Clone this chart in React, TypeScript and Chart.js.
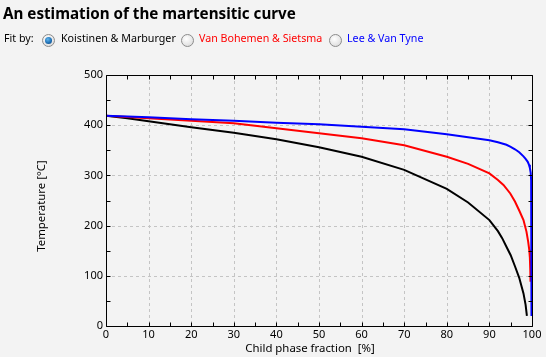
import React, { useEffect, useRef } from "react";
import { Chart, registerables } from "chart.js";

Chart.register(...registerables);

// Koistinen & Marburger (black)
const kmFraction = [0, 5, 10, 20, 30, 40, 50, 60, 70, 80, 85, 90, 91, 92, 93, 94, 95, 96, 97, 98, 98.5, 98.8];
const kmTemp = [419, 414, 408, 396, 385, 372, 356, 337, 311, 273, 246, 211, 200, 189, 175, 158, 141, 119, 96, 65, 42, 20];

// Van Bohemen & Sietsma (red)
const vbFraction = [0, 10, 20, 30, 40, 50, 60, 70, 80, 85, 90, 92, 93.3, 94.9, 96, 97, 98, 98.7, 99.1, 99.35, 99.5, 99.6, 99.65];
const vbTemp = [419, 414, 409, 404, 394, 384, 374, 360, 337, 323, 304, 291, 281, 264, 248, 230, 211, 188, 168, 152, 136, 110, 88];

// Lee & Van Tyne (blue)
const lvFraction = [0, 10, 20, 30, 40, 50, 60, 70, 80, 90, 92, 94, 95, 96, 97, 98, 98.5, 99, 99.3, 99.5, 99.7, 99.8, 99.85, 99.88, 99.9];
const lvTemp = [419, 416, 412, 409, 405, 402, 397, 392, 382, 370, 366, 361, 357, 352, 346, 338, 333, 327, 321, 315, 305, 290, 200, 100, 20];

const xMin = 0;
const xMax = 100;
const yMin = 0;
const yMax = 500;
const xMajor = 10;
const xMinor = 5;
const yMajor = 100;
const yMinor = 50;

const xTitle = "Child phase fraction  [%]";
const yTitle = "Temperature [°C]";
const chartTitle = "An estimation of the martensitic curve";
const fitLabels = ["Koistinen & Marburger", "Van Bohemen & Sietsma", "Lee & Van Tyne"];
const fitColors = ["#000000", "#ff0000", "#0000ff"];

const BG = "#f3f3f3";
const FONT = "'Noto Sans', sans-serif";

const toPoints = (xs: number[], ys: number[]) => xs.map((x, i) => ({ x, y: ys[i] }));

const framePlugin = {
  id: "frame",
  beforeDatasetsDraw(chart: any) {
    const { ctx, chartArea, scales } = chart;
    const { left, right, top, bottom } = chartArea;
    const x = scales.x;
    const y = scales.y;
    ctx.save();
    ctx.strokeStyle = "#c4c4c4";
    ctx.lineWidth = 1;
    ctx.setLineDash([3, 3]);
    for (let v = xMin + xMajor; v < xMax; v += xMajor) {
      const px = Math.round(x.getPixelForValue(v)) + 0.5;
      ctx.beginPath();
      ctx.moveTo(px, top);
      ctx.lineTo(px, bottom);
      ctx.stroke();
    }
    for (let v = yMin + yMajor; v < yMax; v += yMajor) {
      const py = Math.round(y.getPixelForValue(v)) + 0.5;
      ctx.beginPath();
      ctx.moveTo(left, py);
      ctx.lineTo(right, py);
      ctx.stroke();
    }
    ctx.restore();
  },
  afterDraw(chart: any) {
    const { ctx, chartArea, scales } = chart;
    const { left, right, top, bottom } = chartArea;
    const x = scales.x;
    const y = scales.y;
    ctx.save();
    ctx.strokeStyle = "#000";
    ctx.lineWidth = 1;
    const L = Math.round(left) + 0.5;
    const R = Math.round(right) + 0.5;
    const T = Math.round(top) + 0.5;
    const B = Math.round(bottom) + 0.5;
    ctx.beginPath();
    ctx.rect(L, T, R - L, B - T);
    ctx.stroke();
    const tl = 4;
    for (let v = xMin; v <= xMax; v += xMinor) {
      const px = Math.round(x.getPixelForValue(v)) + 0.5;
      ctx.beginPath();
      ctx.moveTo(px, B);
      ctx.lineTo(px, B - tl);
      ctx.moveTo(px, T);
      ctx.lineTo(px, T + tl);
      ctx.stroke();
    }
    for (let v = yMin; v <= yMax; v += yMinor) {
      const py = Math.round(y.getPixelForValue(v)) + 0.5;
      ctx.beginPath();
      ctx.moveTo(L, py);
      ctx.lineTo(L + tl, py);
      ctx.moveTo(R, py);
      ctx.lineTo(R - tl, py);
      ctx.stroke();
    }
    // axis titles
    ctx.fillStyle = "#000";
    ctx.font = `11.4px ${FONT}`;
    ctx.textAlign = "center";
    ctx.textBaseline = "middle";
    ctx.fillText(xTitle, 310, 349);
    ctx.translate(42, 206);
    ctx.rotate(-Math.PI / 2);
    ctx.fillText(yTitle, 0, 0);
    ctx.restore();
  },
};

function Radio({ left, checked }: { left: number; checked: boolean }) {
  return (
    <div
      style={{
        position: "absolute",
        left,
        top: 34,
        width: 11,
        height: 11,
        borderRadius: "50%",
        border: "1px solid #8b8b8b",
        background: "radial-gradient(circle at 40% 35%, #ffffff 0%, #e6e6e6 60%, #d2d2d2 100%)",
      }}
    >
      {checked && (
        <div
          style={{
            position: "absolute",
            left: 2,
            top: 2,
            width: 7,
            height: 7,
            borderRadius: "50%",
            background: "radial-gradient(circle at 40% 35%, #5fb6ef 0%, #1b6bb0 60%, #0d3f73 100%)",
          }}
        />
      )}
    </div>
  );
}

export default function App() {
  const canvasRef = useRef<HTMLCanvasElement | null>(null);

  useEffect(() => {
    const canvas = canvasRef.current;
    if (!canvas) return;
    const chart = new Chart(canvas, {
      type: "line",
      data: {
        datasets: [
          {
            label: fitLabels[2],
            data: toPoints(lvFraction, lvTemp),
            borderColor: fitColors[2],
            borderWidth: 2,
            pointRadius: 0,
            tension: 0,
            fill: false,
          },
          {
            label: fitLabels[1],
            data: toPoints(vbFraction, vbTemp),
            borderColor: fitColors[1],
            borderWidth: 2,
            pointRadius: 0,
            tension: 0,
            fill: false,
          },
          {
            label: fitLabels[0],
            data: toPoints(kmFraction, kmTemp),
            borderColor: fitColors[0],
            borderWidth: 2,
            pointRadius: 0,
            tension: 0,
            fill: false,
          },
        ],
      },
      options: {
        animation: false,
        responsive: false,
        maintainAspectRatio: false,
        layout: { padding: { left: 0, top: 75, right: 14, bottom: 0 } },
        plugins: {
          legend: { display: false },
          tooltip: { enabled: false },
          title: { display: false },
        },
        scales: {
          x: {
            type: "linear",
            min: xMin,
            max: xMax,
            grid: { display: false, drawTicks: false },
            border: { display: false },
            ticks: {
              stepSize: xMajor,
              color: "#000",
              padding: 2,
              maxRotation: 0,
              font: { family: FONT, size: 11 },
            },
            afterFit(scale: any) {
              scale.height = 31;
            },
          },
          y: {
            type: "linear",
            min: yMin,
            max: yMax,
            grid: { display: false, drawTicks: false },
            border: { display: false },
            ticks: {
              stepSize: yMajor,
              color: "#000",
              padding: 3,
              font: { family: FONT, size: 11 },
            },
            afterFit(scale: any) {
              scale.width = 106;
            },
          },
        },
      },
      plugins: [framePlugin],
    });
    return () => chart.destroy();
  }, []);

  const textStyle: React.CSSProperties = {
    position: "absolute",
    top: 31,
    fontSize: 10.7,
    lineHeight: "15px",
    whiteSpace: "nowrap",
  };

  return (
    <div
      style={{
        position: "fixed",
        left: 0,
        top: 0,
        width: 546,
        height: 357,
        background: BG,
        fontFamily: FONT,
        overflow: "hidden",
      }}
    >
      <canvas ref={canvasRef} width={546} height={357} style={{ position: "absolute", left: 0, top: 0 }} />
      <div
        style={{
          position: "absolute",
          left: 3,
          top: 3,
          fontSize: 15.2,
          fontWeight: 700,
          lineHeight: "20px",
          whiteSpace: "nowrap",
          color: "#000",
        }}
      >
        {chartTitle}
      </div>
      <span style={{ ...textStyle, left: 4, color: "#000" }}>Fit by:</span>
      <Radio left={42} checked={true} />
      <span style={{ ...textStyle, left: 61, color: fitColors[0] }}>{fitLabels[0]}</span>
      <Radio left={181} checked={false} />
      <span style={{ ...textStyle, left: 199, color: fitColors[1] }}>{fitLabels[1]}</span>
      <Radio left={329} checked={false} />
      <span style={{ ...textStyle, left: 347, color: fitColors[2] }}>{fitLabels[2]}</span>
    </div>
  );
}
